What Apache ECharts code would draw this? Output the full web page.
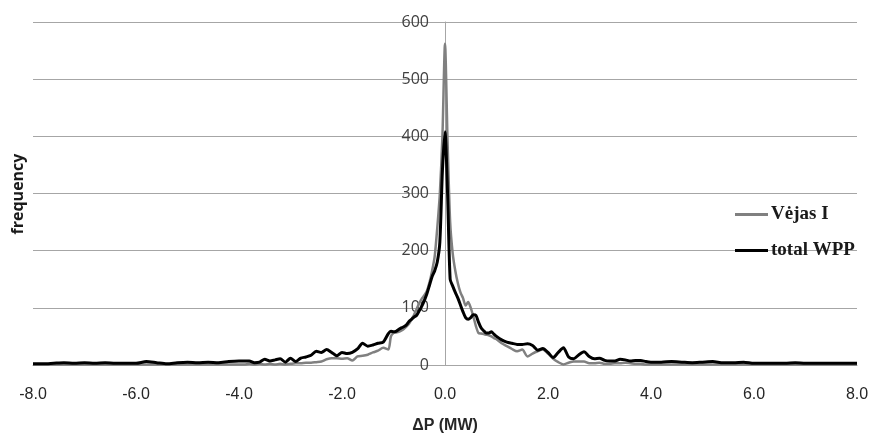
<!DOCTYPE html>
<html>
<head>
<meta charset="utf-8">
<script src="https://cdn.jsdelivr.net/npm/echarts@6/dist/echarts.min.js"></script>
<style>html,body{margin:0;padding:0;background:#fff;}#c{width:870px;height:435px;}</style>
</head>
<body>
<div id="c"></div>
<script>
// ΔP bin centres (MW)
const deltaP = [
  -8.0,-7.8,-7.6,-7.4,-7.2,-7.0,-6.8,-6.6,-6.4,-6.2,-6.0,-5.8,-5.6,-5.4,-5.2,-5.0,-4.8,-4.6,-4.4,-4.2,
  -4.0,-3.9,-3.8,-3.7,-3.6,-3.5,-3.4,-3.3,-3.2,-3.1,-3.0,-2.9,-2.8,-2.7,-2.6,-2.5,-2.4,-2.3,-2.2,-2.1,
  -2.0,-1.9,-1.8,-1.7,-1.6,-1.5,-1.4,-1.3,-1.2,-1.1,
  -1.05,-1.0,-0.95,-0.9,-0.85,-0.8,-0.75,-0.7,-0.65,-0.6,-0.55,-0.5,-0.45,-0.4,-0.35,-0.3,-0.25,-0.2,-0.15,-0.1,-0.05,
  0.0,
  0.05,0.1,0.15,0.2,0.25,0.3,0.35,0.4,0.45,0.5,0.55,0.6,0.65,0.7,0.75,0.8,0.85,0.9,0.95,1.0,
  1.1,1.2,1.3,1.4,1.5,1.6,1.7,1.8,1.9,2.0,2.1,2.2,2.3,2.4,2.5,2.6,2.7,2.8,2.9,3.0,
  3.1,3.2,3.3,3.4,3.5,3.6,3.7,3.8,3.9,4.0,
  4.2,4.4,4.6,4.8,5.0,5.2,5.4,5.6,5.8,6.0,6.2,6.4,6.6,6.8,7.0,7.2,7.4,7.6,7.8,8.0
];
// frequency, Vėjas I
const vejasI = [
  1,1,1,1,1,1,1,1,1,1,1,1,1,1,1,1,1,1,1,1,
  1,1,2,1,2,1,2,1,2,1,2,3,3,4,4,5,6,10,12,12,
  11,12,8,15,16,18,22,25,30,27,
  50,56,57,58,60,63,67,72,80,88,98,108,116,122,130,145,165,190,240,300,400,
  562,
  390,250,195,165,143,127,117,104,110,100,85,68,56,55,54,53,52,50,47,45,
  38,33,28,24,27,15,20,24,27,20,11,5,1,4,6,6,6,3,3,4,
  2,2,3,3,4,3,2,2,1,1,
  1,1,1,1,1,1,1,1,1,1,1,1,1,1,1,1,1,1,1,1
];
// frequency, total WPP
const totalWPP = [
  2,2,3,4,3,4,3,4,3,3,3,6,4,2,4,5,4,5,4,6,
  7,7,7,4,5,10,7,9,11,5,12,6,12,14,17,24,22,27,22,16,
  22,20,22,28,38,33,35,38,40,55,
  59,58,59,62,65,67,70,76,80,84,87,95,103,113,125,140,155,165,180,215,340,
  408,
  300,150,138,127,117,105,93,83,80,83,88,87,75,65,60,56,56,58,54,50,
  44,40,38,36,36,37,34,26,29,22,13,22,30,14,11,18,23,15,11,12,
  8,7,7,10,9,7,8,8,6,5,
  5,6,5,4,5,6,4,4,5,3,3,3,3,4,3,3,3,3,3,3
];
const seriesNames = ['Vėjas I', 'total WPP'];
const xTicks = { min: -8, max: 8, step: 2 };
const yTicks = { min: 0, max: 600, step: 100 };

const pairs = (ys) => deltaP.map((x, i) => [x, ys[i]]);

const W = 870, GL = 33, GR = 13;
const plotW = W - GL - GR;
// y axis crosses the x axis at ΔP = 0
const yAxisOffset = -plotW * (0 - xTicks.min) / (xTicks.max - xTicks.min);

const chart = echarts.init(document.getElementById('c'), null, { renderer: 'canvas' });
chart.setOption({
  animation: false,
  backgroundColor: '#ffffff',
  grid: { left: GL, right: GR, top: 22, bottom: 70, containLabel: false, outerBoundsMode: 'none' },
  xAxis: {
    type: 'value', min: xTicks.min, max: xTicks.max, interval: xTicks.step,
    axisLine: { show: true, onZero: false, lineStyle: { color: '#a6a6a6', width: 1 } },
    axisTick: { show: false },
    splitLine: { show: false },
    axisLabel: {
      margin: 22, color: '#262626', fontSize: 16,
      fontFamily: '"Liberation Sans Narrow", "Arial Narrow", sans-serif',
      formatter: (v) => v.toFixed(1)
    },
    name: 'ΔP (MW)', nameLocation: 'middle', nameGap: 53,
    nameTextStyle: { fontSize: 16, fontWeight: 'bold', color: '#262626',
      fontFamily: '"Liberation Sans Narrow", "Arial Narrow", sans-serif' }
  },
  yAxis: {
    type: 'value', min: yTicks.min, max: yTicks.max, interval: yTicks.step,
    position: 'left', offset: yAxisOffset,
    axisLine: { show: true, onZero: false, lineStyle: { color: '#a6a6a6', width: 1 } },
    axisTick: { show: false },
    splitLine: { show: true, lineStyle: { color: '#a6a6a6', width: 1 } },
    axisLabel: { margin: 16, color: '#404040', fontSize: 16, fontFamily: '"Open Sans", sans-serif' }
  },
  legend: {
    orient: 'vertical', left: 735, top: 205, padding: 0,
    icon: 'rect', itemWidth: 33, itemHeight: 3, itemGap: 17,
    textStyle: { fontFamily: '"Liberation Serif", serif', fontWeight: 'bold', fontSize: 19, color: '#1a1a1a', padding: [0, 0, 0, -2] },
    data: seriesNames
  },
  graphic: [{
    type: 'text', x: 18, y: 194, rotation: Math.PI / 2,
    style: { text: 'frequency', fontSize: 16, fontWeight: 'bold', fill: '#1a1a1a',
      fontFamily: '"Open Sans", sans-serif', align: 'center', verticalAlign: 'middle',
      textAlign: 'center', textVerticalAlign: 'middle' }
  }],
  series: [
    { name: seriesNames[0], type: 'line', data: pairs(vejasI), symbol: 'none', smooth: 0.25,
      lineStyle: { color: '#808080', width: 2.5 }, itemStyle: { color: '#808080' }, z: 2 },
    { name: seriesNames[1], type: 'line', data: pairs(totalWPP), symbol: 'none', smooth: 0.25,
      lineStyle: { color: '#000000', width: 3 }, itemStyle: { color: '#000000' }, z: 3 }
  ]
});
</script>
</body>
</html>
